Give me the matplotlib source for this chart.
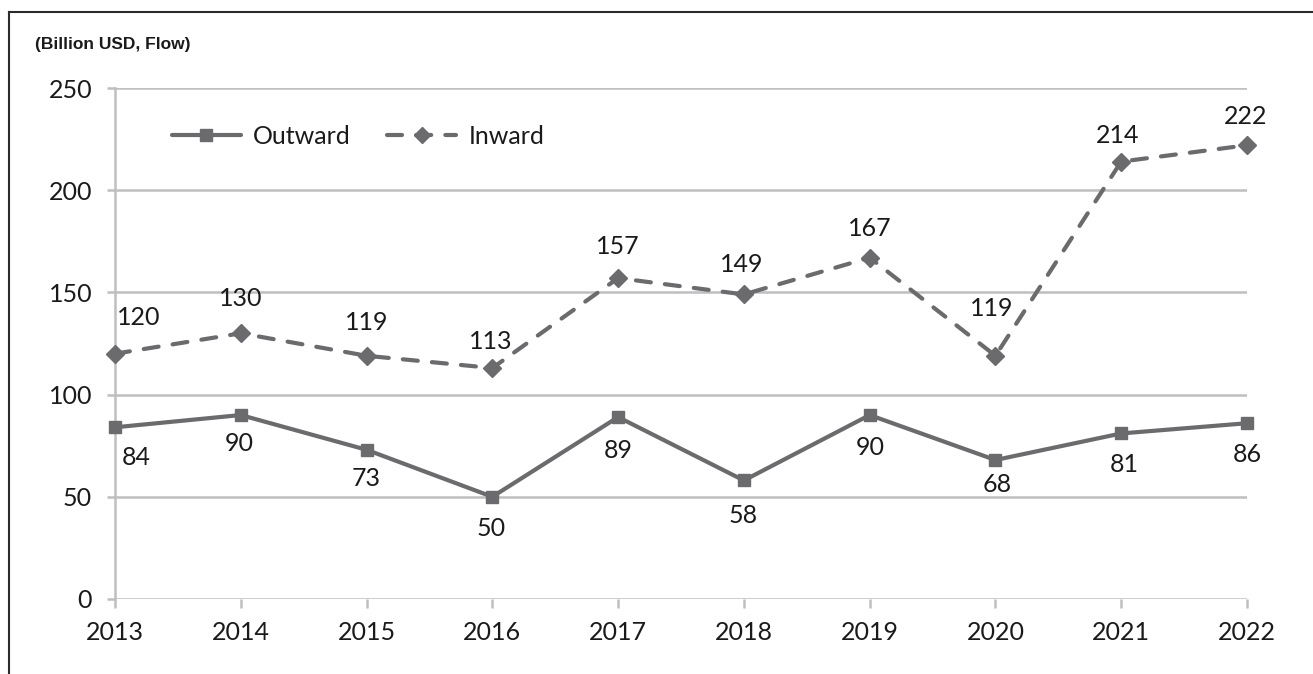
import matplotlib
matplotlib.use("Agg")
import matplotlib.pyplot as plt
from matplotlib.lines import Line2D

years = [2013, 2014, 2015, 2016, 2017, 2018, 2019, 2020, 2021, 2022]
outward = [84, 90, 73, 50, 89, 58, 90, 68, 81, 86]
inward = [120, 130, 119, 113, 157, 149, 167, 119, 214, 222]
yticks = [0, 50, 100, 150, 200, 250]
title = "(Billion USD, Flow)"

# label offsets in pixels (dx, dy) where dy positive = downward
out_off = [(21, 30), (-2, 28), (0, 29), (-1, 32), (0, 33), (-1, 35), (1, 32), (2, 24), (3, 31), (0, 31)]
in_off = [(24, -36), (0, -35), (0, -33), (-2, -27), (0, -32), (-2, -30), (0, -29), (-4, -47), (-4, -26), (-1, -29)]

W, H = 1313, 674
fig = plt.figure(figsize=(W / 100, H / 100), dpi=100)
plt.rcParams['font.family'] = ['Lato', 'DejaVu Sans']

ax = fig.add_axes([115 / W, 1 - 599 / H, (1247 - 115) / W, (599 - 88) / H])

line_col = '#6B6B6E'
grid_col = '#BFBFBF'
txt_col = '#1A1A1A'
fs = 18

ax.plot(years, outward, color=line_col, lw=3.0, marker='s', ms=9, label='Outward',
        clip_on=False, zorder=3, solid_capstyle='round')
ax.plot(years, inward, color=line_col, lw=3.0, marker='D', ms=9.5, label='Inward',
        dashes=(3.6, 3.4), dash_capstyle='round', clip_on=False, zorder=3)

ax.set_xlim(years[0], years[-1])
ax.set_ylim(0, 250)
ax.set_xticks(years)
ax.set_xticklabels([str(y) for y in years])
ax.set_yticks(yticks)
ax.yaxis.grid(True, color=grid_col, lw=1.8)
ax.set_axisbelow(True)

for s in ['top', 'right', 'bottom']:
    ax.spines[s].set_visible(False)
ax.spines['left'].set_color(grid_col)
ax.spines['left'].set_linewidth(1.8)

ax.tick_params(axis='y', length=5.5, width=1.8, color=grid_col, pad=11,
               labelsize=fs, labelcolor=txt_col)
ax.tick_params(axis='x', length=6.5, width=1.8, color=grid_col, pad=9,
               labelsize=fs, labelcolor=txt_col)

for x, v, (dx, dy) in zip(years, outward, out_off):
    ax.annotate(str(v), (x, v), xytext=(dx * 0.72, -dy * 0.72), textcoords='offset points',
                ha='center', va='center', fontsize=fs, color=txt_col, annotation_clip=False)
for x, v, (dx, dy) in zip(years, inward, in_off):
    ax.annotate(str(v), (x, v), xytext=(dx * 0.72, -dy * 0.72), textcoords='offset points',
                ha='center', va='center', fontsize=fs, color=txt_col, annotation_clip=False)

leg = ax.legend(loc='center left', bbox_to_anchor=(57 / 1132, (599 - 136) / 511), ncol=2,
                frameon=False, fontsize=fs, handlelength=2.75, handletextpad=0.5,
                columnspacing=1.45, borderpad=0, borderaxespad=0, markerscale=0.9)
for t in leg.get_texts():
    t.set_color(txt_col)

fig.text(35 / W, 1 - 45 / H, title, fontsize=12.5, fontweight='bold', color=txt_col,
         family=['Liberation Sans', 'DejaVu Sans'], ha='left', va='center')

# frame (top and left only)
fig.add_artist(Line2D([9 / W, 1], [1 - 12 / H, 1 - 12 / H], color='#2B2B2B', lw=1.5,
                      transform=fig.transFigure))
fig.add_artist(Line2D([9 / W, 9 / W], [0, 1 - 12 / H], color='#2B2B2B', lw=1.5,
                      transform=fig.transFigure))

fig.savefig('out.png', dpi=100, facecolor='white')
